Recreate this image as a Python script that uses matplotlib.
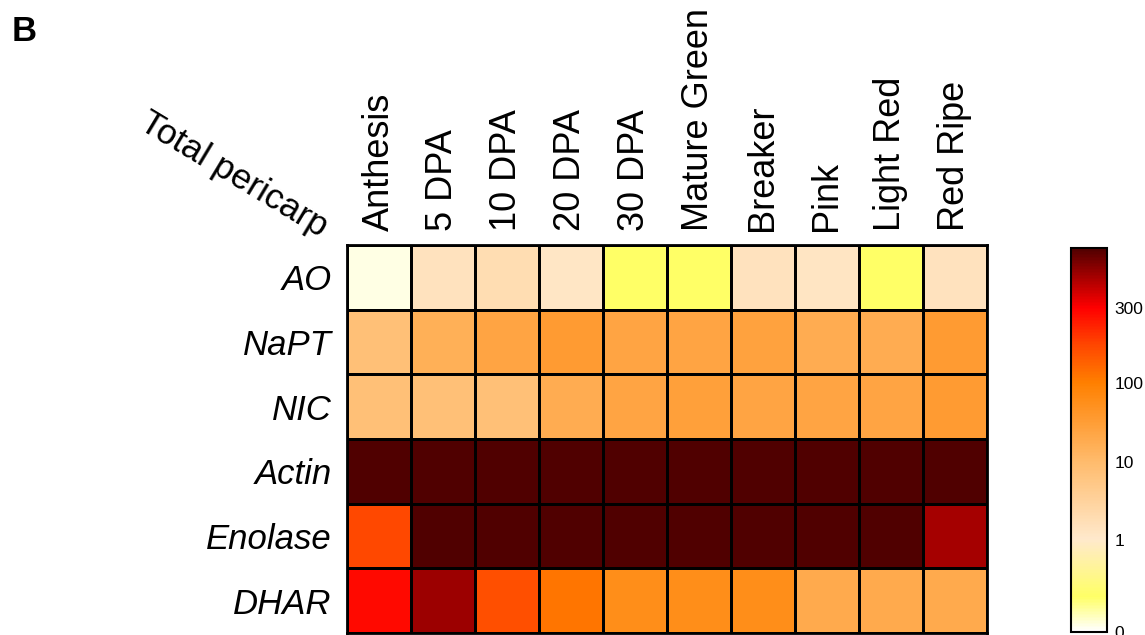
import numpy as np
import matplotlib
matplotlib.use("Agg")
import matplotlib.pyplot as plt
from matplotlib.colors import LinearSegmentedColormap, FuncNorm

plt.rcParams['font.family'] = ['Liberation Sans', 'DejaVu Sans']

# etiquetas
etapas = ["Anthesis", "5 DPA", "10 DPA", "20 DPA", "30 DPA", "Mature Green",
          "Breaker", "Pink", "Light Red", "Red Ripe"]
genes = ["AO", "NaPT", "NIC", "Actin", "Enolase", "DHAR"]

# valores (aprox.)
ao = [0.05, 1.6, 2.2, 1.3, 0.3, 0.3, 1.6, 1.4, 0.3, 1.6]
napt = [8, 16, 25, 35, 25, 25, 27, 18, 18, 35]
nic = [8, 8, 8, 18, 25, 30, 25, 25, 25, 35]
actin = [500, 500, 500, 500, 500, 500, 500, 500, 500, 500]
enolase = [170, 500, 500, 500, 500, 500, 500, 500, 500, 390]
dhar = [280, 400, 160, 110, 60, 60, 60, 20, 20, 20]

cbar_ticks = [0, 1, 10, 100, 300]

datos = np.array([ao, napt, nic, actin, enolase, dhar])

# escala por tramos como en la barra de colores
nudos_u = np.log10(np.array([0, 1, 10, 100, 300, 500]) + 1)
nudos_p = [0, 0.24, 0.443, 0.648, 0.844, 1.0]

def adelante(v):
    return np.interp(np.log10(np.asarray(v, dtype=float) + 1), nudos_u, nudos_p)

def atras(p):
    return 10 ** np.interp(np.asarray(p, dtype=float), nudos_p, nudos_u) - 1

norma = FuncNorm((adelante, atras), vmin=0, vmax=500)

cmap = LinearSegmentedColormap.from_list("pericarp", [
    (0.0, "#ffffff"),
    (0.09, "#ffff66"),
    (0.24, "#ffe9cc"),
    (0.443, "#ffbb6c"),
    (0.648, "#ff8000"),
    (0.75, "#ff4500"),
    (0.844, "#ff0000"),
    (0.93, "#a00000"),
    (1.0, "#500000"),
])

fig = plt.figure(figsize=(11.45, 6.35), dpi=100)
ax = fig.add_axes([0.303, 0.003, 0.559, 0.611])
malla = ax.pcolormesh(datos, cmap=cmap, norm=norma, edgecolors="black", linewidth=1.8)
ax.set_xlim(0, len(etapas))
ax.set_ylim(len(genes), 0)
ax.xaxis.tick_top()
ax.set_xticks(np.arange(len(etapas)) + 0.5)
ax.set_xticklabels(etapas, rotation=90, fontsize=26)
ax.set_yticks(np.arange(len(genes)) + 0.5)
ax.set_yticklabels(genes, fontsize=25, style="italic")
ax.tick_params(axis="x", length=0, pad=10)
ax.tick_params(axis="y", length=0, pad=11)
for s in ax.spines.values():
    s.set_linewidth(2)

cax = fig.add_axes([0.935, 0.005, 0.032, 0.605])
cb = fig.colorbar(malla, cax=cax, ticks=cbar_ticks)
cb.ax.set_yticklabels([str(t) for t in cbar_ticks], fontsize=12.5)
cb.ax.tick_params(length=0, pad=5)
cb.outline.set_linewidth(1.5)

fig.text(0.204, 0.725, "Total pericarp", rotation=-31, fontsize=25.5,
         ha="center", va="center", rotation_mode="anchor")
fig.text(0.01, 0.951, "B", fontsize=25, fontweight="bold", va="center")

fig.savefig("out.png", dpi=100)
